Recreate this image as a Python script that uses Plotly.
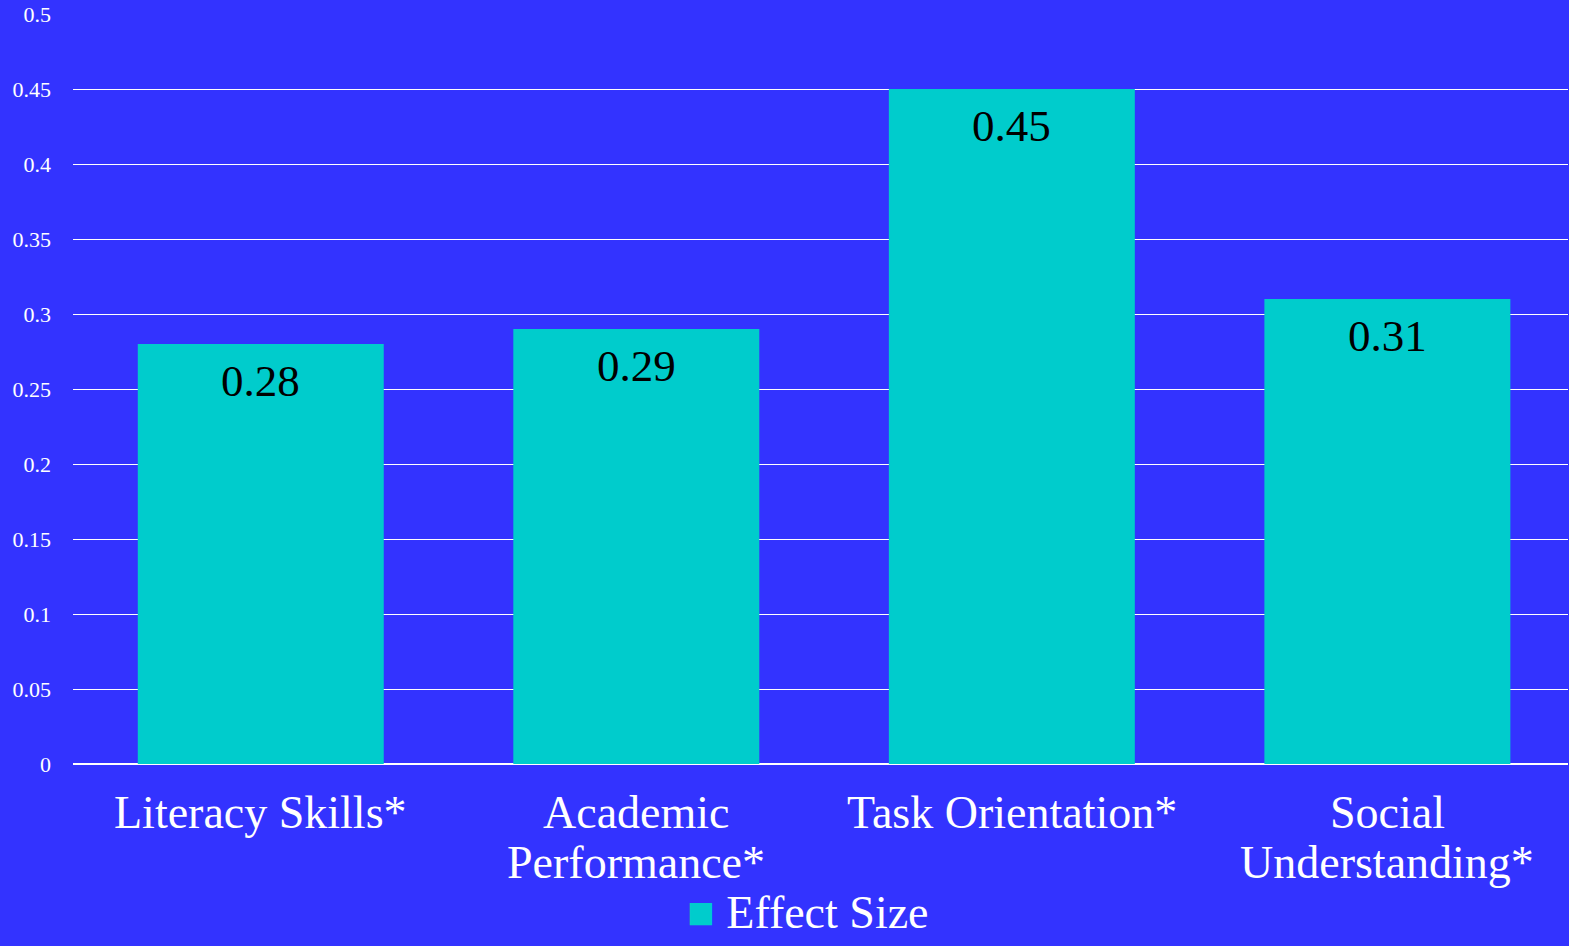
import plotly.graph_objects as go

categories = ["Literacy Skills*", "Academic<br>Performance*", "Task Orientation*", "Social<br>Understanding*"]
effect_size = [0.28, 0.29, 0.45, 0.31]
series_name = "Effect Size"
y_ticks = [0, 0.05, 0.1, 0.15, 0.2, 0.25, 0.3, 0.35, 0.4, 0.45, 0.5]
y_tick_text = ["0", "0.05", "0.1", "0.15", "0.2", "0.25", "0.3", "0.35", "0.4", "0.45", "0.5"]

BG = "#3333FF"
BAR = "#00CCCC"
SERIF = "Liberation Serif, Times New Roman, serif"

PLOT_H = 750  # plot-area height in px, used to convert pixel offsets to paper units

fig = go.Figure(
    go.Bar(
        x=list(range(len(categories))),
        y=effect_size,
        name=series_name,
        marker=dict(color=BAR, line=dict(width=0)),
        showlegend=False,
        hoverinfo="y",
    )
)

annotations = []

# value labels just inside the top of each bar
for i, v in enumerate(effect_size):
    annotations.append(dict(
        x=i, y=v, xref="x", yref="y",
        text=f"{v:.2f}", showarrow=False,
        yanchor="middle", yshift=-37,
        font=dict(family=SERIF, size=45, color="black"),
    ))

# category labels below the axis, with tight line spacing
for i, name in enumerate(categories):
    for j, line in enumerate(name.split("<br>")):
        annotations.append(dict(
            x=i, y=-(49 + 49 * j) / PLOT_H, xref="x", yref="paper",
            text=line, showarrow=False,
            yanchor="middle",
            font=dict(family=SERIF, size=46, color="white"),
        ))

# legend entry
annotations.append(dict(
    x=0.4915, y=-(913 - 764) / PLOT_H, xref="paper", yref="paper",
    text=f"<span style='color:{BAR};font-size:46px'>■</span> {series_name}",
    showarrow=False, xanchor="center", yanchor="middle",
    font=dict(family=SERIF, size=46, color="white"),
))

fig.update_layout(
    width=1569,
    height=946,
    paper_bgcolor=BG,
    plot_bgcolor=BG,
    margin=dict(l=73, r=1, t=14, b=182, autoexpand=False),
    bargap=0.345,
    font=dict(family=SERIF, color="white"),
    showlegend=False,
    annotations=annotations,
    xaxis=dict(
        range=[-0.5, 3.481],
        showgrid=False,
        showline=False,
        zeroline=False,
        ticks="",
        showticklabels=False,
    ),
    yaxis=dict(
        range=[0, 0.5],
        tickvals=y_ticks,
        ticktext=y_tick_text,
        showgrid=True,
        gridcolor="white",
        gridwidth=1,
        zeroline=True,
        zerolinecolor="white",
        zerolinewidth=2,
        showline=False,
        ticks="",
        ticklabelstandoff=21,
        tickfont=dict(family=SERIF, size=22, color="white"),
    ),
)

fig.write_html("out.html")
